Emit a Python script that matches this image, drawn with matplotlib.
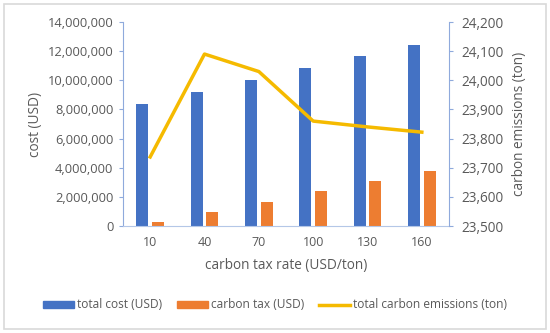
import matplotlib.pyplot as plt
import numpy as np
from matplotlib.ticker import FuncFormatter
from matplotlib.patches import Rectangle
from matplotlib.lines import Line2D

rates = ['10', '40', '70', '100', '130', '160']
total_cost = [8370000, 9200000, 10000000, 10850000, 11670000, 12450000]
carbon_tax = [250000, 960000, 1650000, 2380000, 3070000, 3780000]
emissions = [23737, 24090, 24030, 23860, 23840, 23822]

plt.rcParams['font.family'] = ['Open Sans', 'DejaVu Sans']
txt = '#595959'

fig = plt.figure(figsize=(5.5, 3.33), dpi=100)
ax = fig.add_axes([123/550, 1-226/333, 326/550, 204/333])
ax2 = ax.twinx()

x = np.arange(len(rates))
w = 0.22
ax.bar(x - 0.145, total_cost, w, color='#4472C4', zorder=2)
ax.bar(x + 0.145, carbon_tax, w, color='#ED7D31', zorder=2)
ax2.plot(x, emissions, color='#F5BA00', lw=2.5)

ax.set_xlim(-0.5, 5.5)
ax.set_ylim(0, 14000000)
ax.set_yticks(np.arange(0, 14000001, 2000000))
ax.yaxis.set_major_formatter(FuncFormatter(lambda v, p: f'{int(v):,}'))
ax2.set_ylim(23500, 24200)
ax2.set_yticks(np.arange(23500, 24201, 100))
ax2.yaxis.set_major_formatter(FuncFormatter(lambda v, p: f'{int(v):,}'))
ax.set_xticks(x)
ax.set_xticklabels(rates)

for a in (ax, ax2):
    for s in a.spines.values():
        s.set_visible(False)
    a.tick_params(colors=txt, labelsize=9.3, length=0)
ax.spines['left'].set_visible(True)
ax.spines['left'].set_color('#8FAADC')
ax.spines['bottom'].set_visible(True)
ax.spines['bottom'].set_color('#B4C7E7')
ax2.spines['right'].set_visible(True)
ax2.spines['right'].set_color('#8FAADC')
ax.tick_params(axis='y', length=3, color='#8FAADC', pad=4)
ax2.tick_params(axis='y', length=3, color='#8FAADC', pad=6, labelsize=9.8)
ax.tick_params(axis='x', pad=7, labelsize=9)

ax.set_ylabel('cost (USD)', color=txt, fontsize=9.8, labelpad=3)
ax2.set_ylabel('carbon emissions (ton)', color=txt, fontsize=9.8, labelpad=6)
ax.set_xlabel('carbon tax rate (USD/ton)', color=txt, fontsize=9.8, labelpad=7)

handles = [Rectangle((0, 0), 1, 1, color='#4472C4'),
           Rectangle((0, 0), 1, 1, color='#ED7D31'),
           Line2D([], [], color='#F5BA00', lw=2.5)]
fig.legend(handles, ['total cost (USD)', 'carbon tax (USD)', 'total carbon emissions (ton)'],
           loc='center', bbox_to_anchor=(0.5, 1-305/333), ncol=3, frameon=False,
           fontsize=8.6, labelcolor=txt, handlelength=2.6, handleheight=0.5,
           columnspacing=1.2, handletextpad=0.25)

fig.add_artist(Rectangle((0.008, 0.012), 0.984, 0.976, transform=fig.transFigure,
                         fill=False, edgecolor='#D9D9D9', lw=1.2))

fig.savefig('out.png', dpi=100)
